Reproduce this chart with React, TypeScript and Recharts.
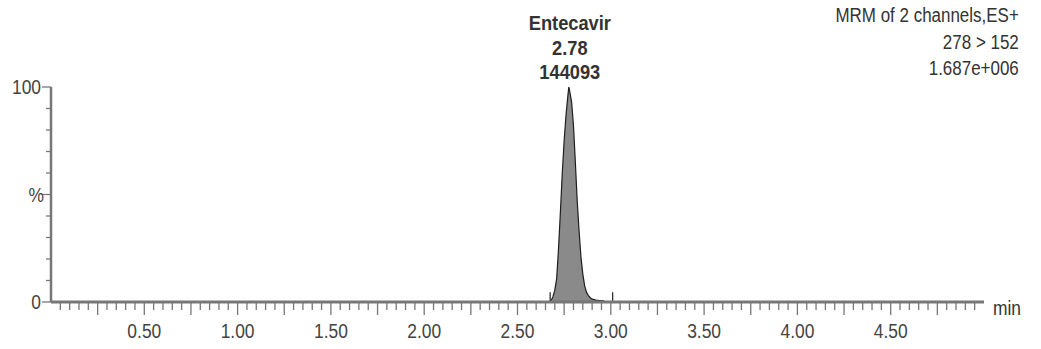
import { Area, ComposedChart, ReferenceDot, ReferenceLine, XAxis, YAxis } from "recharts";

const FONT = "'Liberation Sans', Arial, sans-serif";
const SQUEEZE = 0.87; // original uses a condensed Arial-like face

// chromatogram trace: retention time (min) vs relative intensity (%)
const timeMin = [
  0, 2.67, 2.68, 2.69, 2.7, 2.71, 2.72, 2.73, 2.74, 2.75, 2.76, 2.77, 2.775, 2.78, 2.79, 2.8,
  2.81, 2.82, 2.83, 2.84, 2.85, 2.86, 2.87, 2.88, 2.89, 2.9, 2.92, 2.94, 2.96, 2.97, 5,
];
const intensityPct = [
  0, 0, 0.6, 2.5, 5.5, 11, 25, 42, 60, 75, 87, 96, 100, 98, 93, 82,
  65, 47, 33, 21, 13, 7.5, 4.5, 3, 2, 1.3, 0.9, 0.7, 0.5, 0, 0,
];

const xTickLabels = ["0.50", "1.00", "1.50", "2.00", "2.50", "3.00", "3.50", "4.00", "4.50"];
const yTicks = [0, 10, 20, 30, 40, 50, 60, 70, 80, 90, 100];
const yTickLabels: Record<number, string> = { 0: "0", 50: "%", 100: "100" };
const peakInfo = ["Entecavir", "2.78", "144093"];
const channelInfo = ["MRM of 2 channels,ES+", "278 > 152", "1.687e+006"];
const integrationMarks = [2.675, 3.01];

const chartData = timeMin.map((t, i) => ({ t, pct: intensityPct[i] }));
const peakIdx = intensityPct.indexOf(Math.max(...intensityPct));

// minor ticks every 0.05 min
const xTicks = Array.from({ length: 99 }, (_, i) => Math.round((i + 1) * 5) / 100);

const NText = ({ x, y, anchor = "middle", size = 20, weight = "normal", fill = "#444", children }: any) => (
  <text
    transform={`translate(${x},${y}) scale(${SQUEEZE},1)`}
    textAnchor={anchor}
    fontSize={size}
    fontWeight={weight}
    fill={fill}
    fontFamily={FONT}
  >
    {children}
  </text>
);

const XTick = (props: any) => {
  const { x, y, payload } = props;
  const n = Math.round(payload.value * 20);
  const len = n % 5 === 0 ? 13 : 8;
  const label = payload.value.toFixed(2);
  return (
    <g>
      <line x1={x} x2={x} y1={y + 1} y2={y + len} stroke="#777" strokeWidth={1.3} />
      {xTickLabels.includes(label) && (
        <NText x={x} y={y + 36}>
          {label}
        </NText>
      )}
    </g>
  );
};

const YTick = (props: any) => {
  const { x, y, payload } = props;
  const label = yTickLabels[payload.value];
  const len = label ? 9 : 5;
  return (
    <g>
      <line x1={x - len} x2={x} y1={y} y2={y} stroke="#777" strokeWidth={1.3} />
      {label && (
        <NText x={label === "%" ? x - 7 : x - 10} y={y + 7} anchor="end">
          {label}
        </NText>
      )}
    </g>
  );
};

const PeakLabel = (props: any) => {
  const { viewBox } = props;
  const cx = viewBox.x + viewBox.width / 2;
  const cy = viewBox.y + viewBox.height / 2;
  return (
    <g>
      {peakInfo.map((s, i) => (
        <NText key={s} x={cx + 1} y={cy - 57 + i * 24.5} size={21} weight="bold" fill="#333">
          {s}
        </NText>
      ))}
    </g>
  );
};

export default function App() {
  return (
    <div style={{ position: "absolute", left: 0, top: 0, width: 1041, height: 349, background: "#fff" }}>
      <ComposedChart
        width={1041}
        height={349}
        data={chartData}
        margin={{ top: 87, right: 57, bottom: 7, left: 0 }}
      >
        <XAxis
          dataKey="t"
          type="number"
          domain={[0, 5]}
          ticks={xTicks}
          interval={0}
          height={40}
          tickSize={0}
          tickMargin={0}
          tickLine={false}
          tick={<XTick />}
          axisLine={{ stroke: "#777", strokeWidth: 3 }}
        />
        <YAxis
          type="number"
          domain={[0, 100]}
          ticks={yTicks}
          interval={0}
          width={51}
          tickSize={0}
          tickMargin={0}
          tickLine={false}
          tick={<YTick />}
          axisLine={{ stroke: "#777", strokeWidth: 2.5 }}
        />
        <Area
          type="linear"
          dataKey="pct"
          stroke="#1e1e1e"
          strokeWidth={1.2}
          fill="#8a8a8a"
          fillOpacity={1}
          dot={false}
          activeDot={false}
          isAnimationActive={false}
        />
        {integrationMarks.map((m) => (
          <ReferenceLine
            key={m}
            segment={[
              { x: m, y: 0 },
              { x: m, y: 4.5 },
            ]}
            stroke="#1e1e1e"
            strokeWidth={1.2}
          />
        ))}
        <ReferenceDot
          x={timeMin[peakIdx]}
          y={intensityPct[peakIdx]}
          r={1}
          fill="none"
          stroke="none"
          label={(p: any) => <PeakLabel {...p} />}
        />
      </ComposedChart>
      <div
        style={{
          position: "absolute",
          right: 22,
          top: 2,
          textAlign: "right",
          fontFamily: FONT,
          fontSize: 19.5,
          lineHeight: "26.5px",
          color: "#333",
          transform: `scaleX(${SQUEEZE})`,
          transformOrigin: "right center",
        }}
      >
        {channelInfo.map((s) => (
          <div key={s} style={{ whiteSpace: "nowrap" }}>
            {s}
          </div>
        ))}
      </div>
      <div
        style={{
          position: "absolute",
          left: 993,
          top: 295,
          fontFamily: FONT,
          fontSize: 20,
          lineHeight: "26px",
          color: "#333",
          transform: `scaleX(${SQUEEZE})`,
          transformOrigin: "left center",
        }}
      >
        min
      </div>
    </div>
  );
}
